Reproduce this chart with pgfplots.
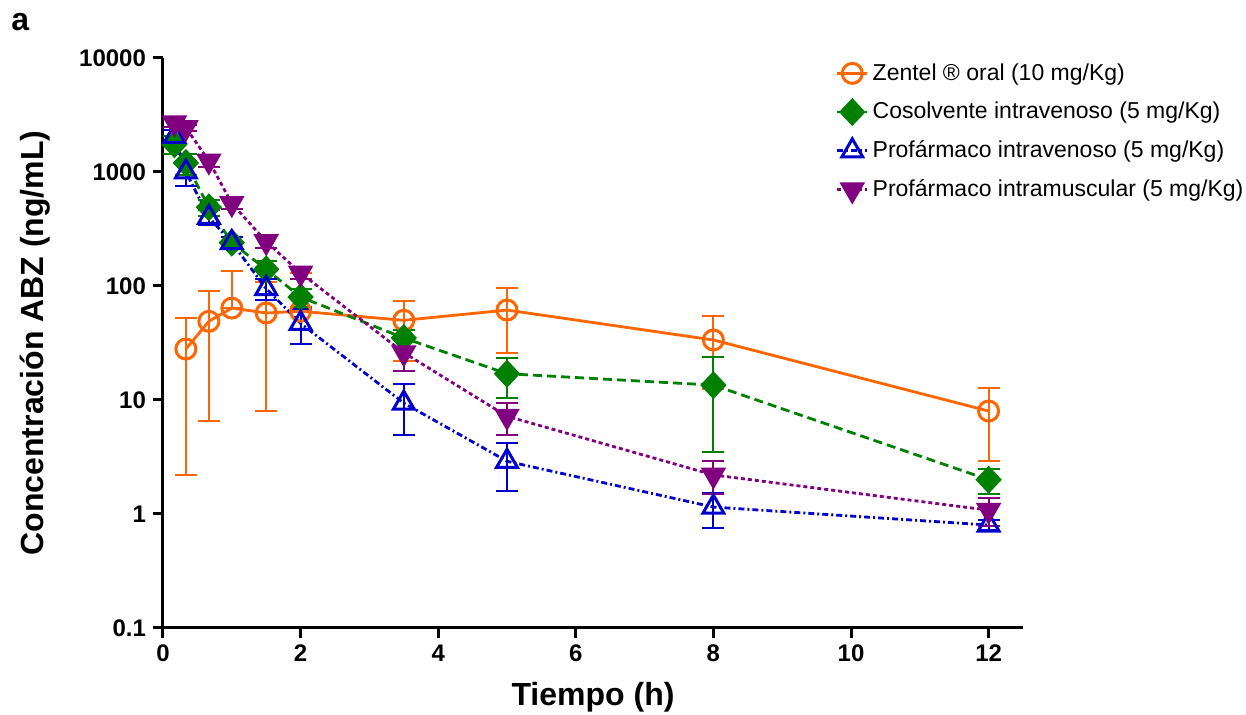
\documentclass[border=0pt]{standalone}
\usepackage{fontspec}
\setmainfont{Liberation Sans}
\usepackage{pgfplots}
\pgfplotsset{compat=1.18}
\definecolor{zorange}{HTML}{FF6600}
\definecolor{zgreen}{HTML}{008000}
\definecolor{zblue}{HTML}{0000CC}
\definecolor{zpurple}{HTML}{800080}

\begin{document}
\begin{tikzpicture}
\begin{axis}[
  scale only axis, width=430pt, height=285pt,
  ymode=log, xmin=0, xmax=12.5, ymin=0.1, ymax=10000,
  axis lines=left, axis line style={line width=1.5pt,-},
  xtick={0,2,4,6,8,10,12},
  ytick={0.1,1,10,100,1000,10000},
  yticklabels={0.1,1,10,100,1000,10000},
  yminorticks=false, xminorticks=false,
  tick align=outside, major tick length=5pt,
  tick style={line width=1.5pt,black},
  tick label style={font=\fontsize{12}{14}\selectfont\bfseries},
  /pgf/number format/assume math mode=true,
  xlabel={Tiempo (h)}, ylabel={Concentración ABZ (ng/mL)},
  label style={font=\fontsize{16}{18}\selectfont\bfseries},
  xlabel style={at={(axis description cs:0.5,-0.121)},anchor=center},
  ylabel style={at={(axis description cs:-0.149,0.5)},anchor=center},
  clip=false,
  legend cell align=left,
  legend style={at={(axis description cs:0.775,1.005)},anchor=north west,
    draw=none,fill=none,font=\fontsize{11.5}{13}\selectfont,row sep=5.5pt},
  legend image code/.code={\draw[mark repeat=2,mark phase=2,#1]
    plot coordinates {(0pt,0pt)(7.5pt,0pt)(15pt,0pt)};},
  error bars/y dir=both, error bars/y explicit,
  error bars/error bar style={line width=1pt,solid},
  error bars/error mark options={rotate=90,mark size=5.5pt,line width=1pt,solid},
]
\addplot[zorange,line width=1.4pt,mark=o,mark size=5pt,mark options={solid,line width=1.5pt}]
  coordinates {(0.333,28) +=(0,24) -=(0,25.8)
    (0.667,49) +=(0,41) -=(0,42.5)
    (1,64) +=(0,71) -=(0,0)
    (1.5,58) +=(0,50) -=(0,50)
    (2,60) +=(0,70) -=(0,0)
    (3.5,50) +=(0,24) -=(0,28)
    (5,61.5) +=(0,35) -=(0,35.5)
    (8,33.6) +=(0,21) -=(0,21)
    (12,8.0) +=(0,4.7) -=(0,5.1)};
\addlegendentry{Zentel ® oral (10 mg/Kg)}
\addplot[zgreen,line width=1.4pt,dash pattern=on 4.5pt off 2.5pt,mark=diamond*,mark size=6pt,
  mark options={solid,xscale=1.25}]
  coordinates {(0.167,1750) +=(0,300) -=(0,300)
    (0.333,1200) +=(0,250) -=(0,250)
    (0.667,490) +=(0,80) -=(0,80)
    (1,240) +=(0,30) -=(0,30)
    (1.5,140) +=(0,25) -=(0,25)
    (2,80) +=(0,15) -=(0,15)
    (3.5,35) +=(0,6) -=(0,6)
    (5,17) +=(0,6.5) -=(0,6.6)
    (8,13.5) +=(0,10.3) -=(0,10)
    (12,2.0) +=(0,0.5) -=(0,0.5)};
\addlegendentry{Cosolvente intravenoso (5 mg/Kg)}
\addplot[zblue,line width=1.4pt,dash pattern=on 3pt off 1.5pt on 1pt off 1.5pt,mark=triangle,mark size=6pt,
  mark options={solid,line width=1.5pt}]
  coordinates {(0.167,2050) +=(0,300) -=(0,300)
    (0.333,1000) +=(0,250) -=(0,250)
    (0.667,400) +=(0,60) -=(0,60)
    (1,240) +=(0,30) -=(0,30)
    (1.5,95) +=(0,20) -=(0,20)
    (2,47) +=(0,16) -=(0,16)
    (3.5,9.4) +=(0,4.4) -=(0,4.5)
    (5,2.9) +=(0,1.3) -=(0,1.3)
    (8,1.15) +=(0,0.38) -=(0,0.4)
    (12,0.8) +=(0,0.08) -=(0,0.08)};
\addlegendentry{Profármaco intravenoso (5 mg/Kg)}
\addplot[zpurple,line width=1.4pt,dash pattern=on 2pt off 1.5pt,mark=triangle*,mark size=6pt,
  mark options={solid,rotate=180}]
  coordinates {(0.167,2700) +=(0,200) -=(0,200)
    (0.333,2450) +=(0,150) -=(0,150)
    (0.667,1250) +=(0,150) -=(0,150)
    (1,530) +=(0,60) -=(0,60)
    (1.5,245) +=(0,30) -=(0,30)
    (2,130) +=(0,15) -=(0,15)
    (3.5,26) +=(0,8) -=(0,8)
    (5,7.2) +=(0,2.3) -=(0,2.3)
    (8,2.2) +=(0,0.7) -=(0,0.7)
    (12,1.08) +=(0,0.3) -=(0,0.3)};
\addlegendentry{Profármaco intramuscular (5 mg/Kg)}
\node[font=\fontsize{16}{18}\selectfont\bfseries,anchor=center] at (axis description cs:-0.166,1.063) {a};
\coordinate (bl) at (axis description cs:-0.18953,-0.15263);
\coordinate (tr) at (axis description cs:1.2593,1.10175);
\end{axis}
\pgfresetboundingbox
\path[use as bounding box] (bl) rectangle (tr);
\end{tikzpicture}
\end{document}
